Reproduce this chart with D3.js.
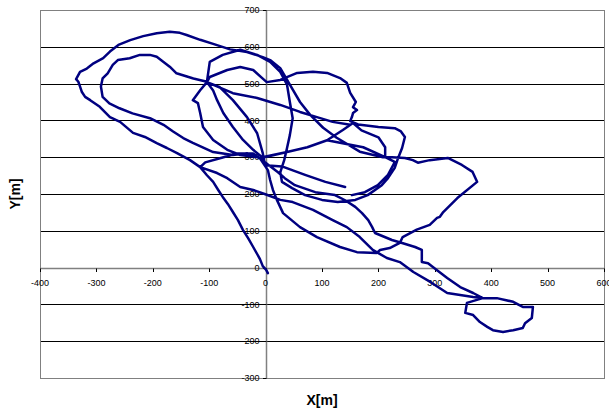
<!DOCTYPE html>
<html>
<head>
<meta charset="utf-8">
<script src="https://cdn.jsdelivr.net/npm/d3@7"></script>
<style>
  html, body { margin: 0; padding: 0; background: #fff; }
  svg { display: block; }
</style>
</head>
<body>
<svg id="chart" width="609" height="413"></svg>
<script>
// ---- data ----
const xTicks = [-400, -300, -200, -100, 0, 100, 200, 300, 400, 500, 600];
const yTicks = [-300, -200, -100, 0, 100, 200, 300, 400, 500, 600, 700];
const gridValues = [-200, -100, 100, 200, 300, 400, 500, 600];
const xTitle = "X[m]";
const yTitle = "Y[m]";

// trajectory X[m], Y[m] (in order)
const trackX = [
  4,1,-5,-10,-15,-22,-31,-40,-49,-58,-67,-76,-84,-93,-104,-116,
  -134,-157,-175,-193,-214,-235,-258,-276,-294,-311,-320,-326,-329,-332,-336,-329,-317,-305,-288,-276,-261,-240,-217,-193,-170,-152,-140,-116,-93,-63,-33,-5,8,26,43,61,79,102,126,167,208,
  224,247,261,270,285,291,323,348,367,375,340,315,309,304,291,268,243,238,220,203,197,162,132,91,61,31,20,13,8,4,-10,
  -33,-58,-93,-129,-146,-164,-181,-205,-236,-259,-277,-289,-292,-289,-280,-271,-262,-241,-223,-205,-193,-181,-170,-158,-128,-104,
  -99,-76,-45,-15,8,26,38,43,48,43,38,33,26,29,47,70,100,128,159,181,206,217,229,235,242,247,240,229,200,164,150,
  153,155,162,155,160,150,144,132,109,84,56,26,2,-6,-22,-45,-68,-99,-104,
  -116,-129,-120,-116,-111,-93,-68,-45,-13,
  -22,-51,-81,-107,-116,
  -86,-68,-45,-22,2,26,48,84,119,144,167,190,215,238,262,292,322,368,385,
  410,439,456,474,472,460,456,439,421,403,393,380,368,354,357,385,
  368,345,322,304,288,277,277,265,242,224,194,189,182,171,159,141,
  123,88,52,34,22,4,-10,
  38,74,109,137,155,170,200,212,212,229,217,199,176,153,176,199,217,229,212,173,109,74,38,-6,
  -22,-40,-58,-75,-86,-93,-104,
  -58,-15,26,61,91,119,150,119,91,61,26,-15,-58,-104,
  -81,-58,-33,-15,-5,-1,29,70,106,141
];
const trackY = [
  -15,-6,4,23,37,56,80,102,129,151,173,192,211,233,251,273,
  292,311,325,338,355,366,396,409,437,455,464,478,492,505,512,532,541,555,569,587,605,618,629,637,641,638,632,619,608,593,586,572,564,542,497,450,415,380,353,315,300,
  300,298,292,285,290,292,298,279,260,233,189,151,138,135,116,103,83,67,53,48,40,42,56,83,110,148,184,211,238,265,297,
  311,306,314,339,352,370,388,406,419,433,446,464,492,514,528,551,564,569,578,578,573,559,546,528,514,505,
  559,578,592,578,559,532,497,450,406,360,325,292,259,233,216,197,184,178,184,197,224,243,271,298,325,355,370,379,382,389,398,
  409,420,428,436,450,475,502,515,529,532,529,510,504,515,537,545,537,518,504,
  482,455,447,420,382,347,320,306,300,
  310,310,297,286,273,
  257,243,219,211,198,184,178,157,129,110,83,48,26,15,-12,-39,-69,-80,-83,
  -83,-93,-107,-107,-137,-151,-164,-170,-175,-170,-161,-148,-129,-123,-96,-83,
  -69,-53,-28,-7,12,15,48,56,67,75,94,110,129,148,165,183,
  197,205,224,243,259,280,297,
  314,327,346,374,393,373,354,327,300,287,252,224,205,197,205,224,252,287,300,327,346,327,314,300,
  320,347,382,420,455,481,504,
  474,461,442,423,409,396,388,396,409,423,442,461,474,504,
  490,455,409,365,311,278,275,252,233,219
];

// ---- layout ----
const svg = d3.select("#chart");
const x = d3.scaleLinear().domain([-400, 600]).range([40, 604]);
const y = d3.scaleLinear().domain([-300, 700]).range([378, 10]);
const font = "'Liberation Sans', Arial, sans-serif";

// gridlines
svg.append("g").selectAll("line").data(gridValues).join("line")
  .attr("x1", x(-400)).attr("x2", x(600))
  .attr("y1", d => Math.round(y(d)) + 0.5).attr("y2", d => Math.round(y(d)) + 0.5)
  .attr("stroke", "#000").attr("stroke-width", 1);

// plot border
svg.append("rect")
  .attr("x", Math.round(x(-400)) + 0.5).attr("y", Math.round(y(700)) + 0.5)
  .attr("width", Math.round(x(600)) - Math.round(x(-400)))
  .attr("height", Math.round(y(-300)) - Math.round(y(700)))
  .attr("fill", "none").attr("stroke", "#808080").attr("stroke-width", 1);

// axes crossing at the origin
const x0 = Math.round(x(0)) + 0.5, y0 = Math.round(y(0)) + 0.5;
svg.append("line").attr("x1", x(-400)).attr("x2", x(600)).attr("y1", y0).attr("y2", y0)
  .attr("stroke", "#808080").attr("stroke-width", 1.5);
svg.append("line").attr("x1", x0).attr("x2", x0).attr("y1", y(700)).attr("y2", y(-300))
  .attr("stroke", "#808080").attr("stroke-width", 1.5);

// ticks
svg.append("g").selectAll("line").data(xTicks).join("line")
  .attr("x1", d => Math.round(x(d)) + 0.5).attr("x2", d => Math.round(x(d)) + 0.5)
  .attr("y1", y0).attr("y2", y0 + 3.5).attr("stroke", "#000");
svg.append("g").selectAll("line").data(yTicks).join("line")
  .attr("x1", x0 - 3.5).attr("x2", x0)
  .attr("y1", d => Math.round(y(d)) + 0.5).attr("y2", d => Math.round(y(d)) + 0.5).attr("stroke", "#000");

// tick labels
svg.append("g").selectAll("text").data(xTicks).join("text")
  .attr("x", d => x(d)).attr("y", y0 + 17)
  .attr("text-anchor", "middle").attr("font-family", font).attr("font-size", 9).attr("fill", "#000")
  .text(d => d);
svg.append("g").selectAll("text").data(yTicks).join("text")
  .attr("x", x0 - 7).attr("y", d => y(d)).attr("dy", "0.35em")
  .attr("text-anchor", "end").attr("font-family", font).attr("font-size", 9).attr("fill", "#000")
  .text(d => d);

// trajectory
const pts = trackX.map((v, i) => [v, trackY[i]]);
const line = d3.line().x(d => x(d[0])).y(d => y(d[1]));
svg.append("path").datum(pts)
  .attr("d", line)
  .attr("fill", "none").attr("stroke", "#000080").attr("stroke-width", 2.5)
  .attr("stroke-linejoin", "round").attr("stroke-linecap", "round");

// axis titles
svg.append("text").attr("x", (x(-400) + x(600)) / 2).attr("y", 405)
  .attr("text-anchor", "middle").attr("font-family", font).attr("font-weight", "bold")
  .attr("font-size", 14).text(xTitle);
svg.append("text").attr("transform", `translate(20,${(y(700) + y(-300)) / 2}) rotate(-90)`)
  .attr("text-anchor", "middle").attr("font-family", font).attr("font-weight", "bold")
  .attr("font-size", 14).text(yTitle);
</script>
</body>
</html>
